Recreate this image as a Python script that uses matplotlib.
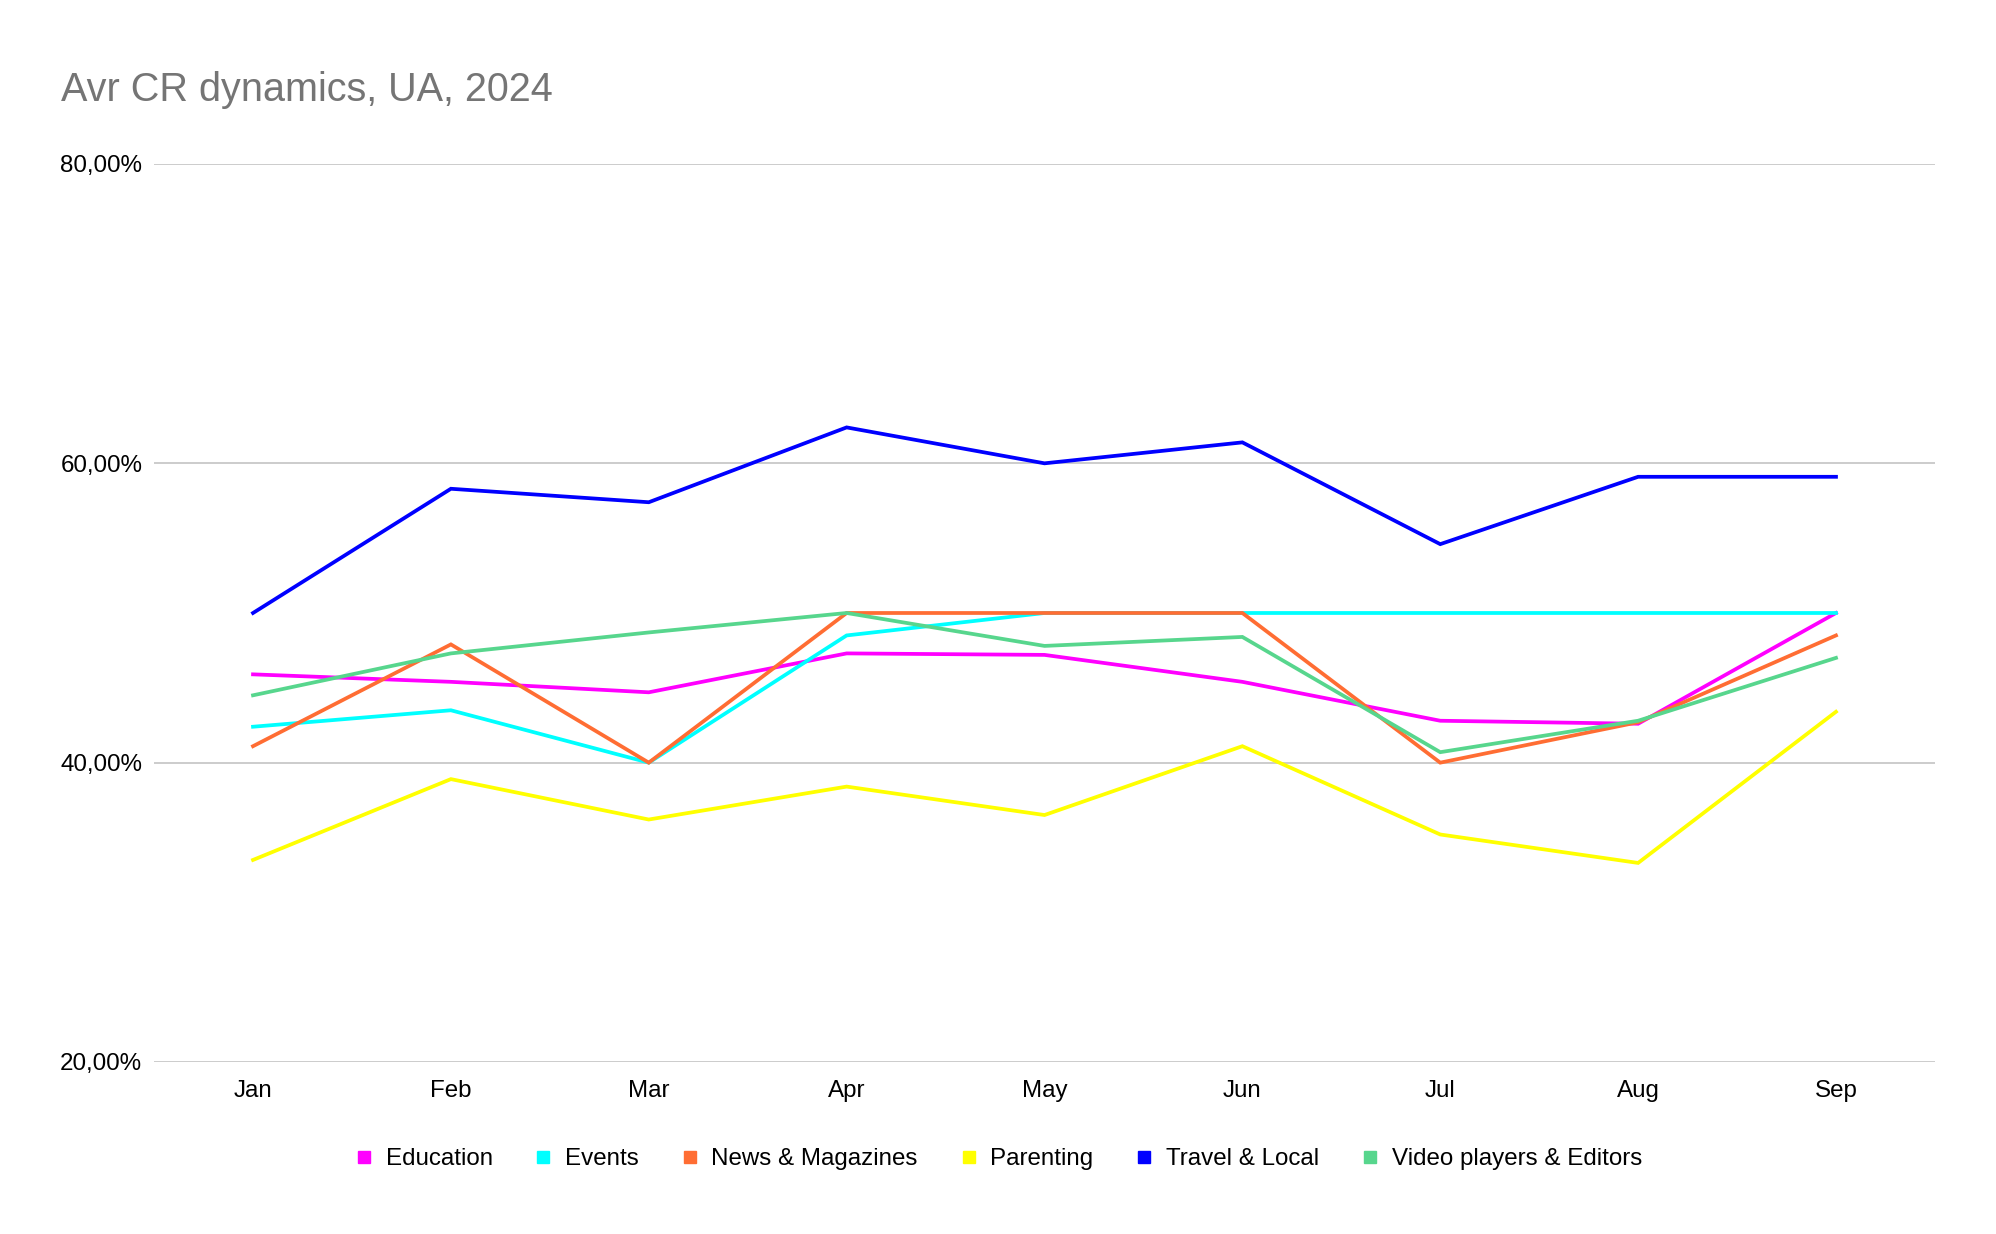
import numpy as np
import matplotlib.pyplot as plt
from matplotlib.ticker import FuncFormatter
from matplotlib.lines import Line2D

plt.rcParams['font.family'] = ['Liberation Sans', 'DejaVu Sans']

months = ["Jan", "Feb", "Mar", "Apr", "May", "Jun", "Jul", "Aug", "Sep"]

education = [45.9, 45.4, 44.7, 47.3, 47.2, 45.4, 42.8, 42.6, 50.0]
events = [42.4, 43.5, 40.0, 48.5, 50.0, 50.0, 50.0, 50.0, 50.0]
news = [41.1, 47.9, 40.0, 50.0, 50.0, 50.0, 40.0, 42.7, 48.5]
parenting = [33.5, 38.9, 36.2, 38.4, 36.5, 41.1, 35.2, 33.3, 43.4]
travel = [50.0, 58.3, 57.4, 62.4, 60.0, 61.4, 54.6, 59.1, 59.1]
video = [44.5, 47.3, 48.7, 50.0, 47.8, 48.4, 40.7, 42.8, 47.0]

series = ["Education", "Events", "News & Magazines", "Parenting",
          "Travel & Local", "Video players & Editors"]
values = [education, events, news, parenting, travel, video]
colors = ["#ff00ff", "#00ffff", "#ff6d33", "#ffff00", "#0000ff", "#57d68d"]

fig = plt.figure(figsize=(19.96, 12.34), dpi=100)
ax = fig.add_axes([0.0772, 0.1394, 0.8922, 0.7277])

x = np.arange(len(months))
for name, v, c in zip(series, values, colors):
    ax.plot(x, v, color=c, lw=2.7, label=name, solid_joinstyle="miter", zorder=3)

ax.set_xlim(-0.5, len(months) - 0.5)
ax.set_ylim(20, 80)
ax.set_yticks([20, 40, 60, 80])
ax.yaxis.set_major_formatter(FuncFormatter(lambda v, p: f"{v:.2f}%".replace(".", ",")))
ax.set_xticks(x)
ax.set_xticklabels(months)
ax.tick_params(axis="both", length=0, labelsize=17.4, colors="black")
ax.tick_params(axis="y", pad=8.5)
ax.tick_params(axis="x", pad=13)
ax.grid(axis="y", color="#cccccc", lw=1.4, zorder=0)
for s in ax.spines.values():
    s.set_visible(False)

fig.text(0.0306, 0.927, "Avr CR dynamics, UA, 2024", fontsize=28.5, color="#757575",
         ha="left", va="center")

handles = [Line2D([], [], marker="s", ls="", color=c, markersize=8) for c in colors]
fig.legend(handles, series, loc="center", bbox_to_anchor=(0.5, 0.0605), ncol=6,
           frameon=False, fontsize=17.4, handletextpad=0.5, columnspacing=1.7,
           handlelength=0.8)

fig.savefig("out.png", dpi=100, facecolor="white")
